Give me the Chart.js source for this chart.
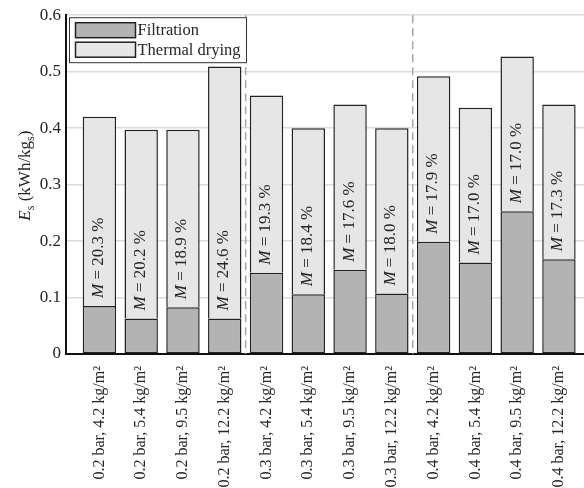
<!DOCTYPE html>
<html>
<head>
<meta charset="utf-8">
<script src="https://cdn.jsdelivr.net/npm/chart.js"></script>
<style>
  html, body { margin: 0; padding: 0; background: #fff; }
  canvas { display: block; }
</style>
</head>
<body>
<canvas id="energyChart" width="584" height="488"></canvas>
<script>
// values
const pressures = ['0.2', '0.2', '0.2', '0.2', '0.3', '0.3', '0.3', '0.3', '0.4', '0.4', '0.4', '0.4'];
const loadings = ['4.2', '5.4', '9.5', '12.2', '4.2', '5.4', '9.5', '12.2', '4.2', '5.4', '9.5', '12.2'];
const filtration = [0.085, 0.063, 0.083, 0.063, 0.144, 0.106, 0.149, 0.107, 0.199, 0.162, 0.253, 0.168];
const thermalDrying = [0.335, 0.334, 0.314, 0.446, 0.314, 0.294, 0.293, 0.293, 0.293, 0.274, 0.274, 0.274];
const moisture = ['20.3', '20.2', '18.9', '24.6', '19.3', '18.4', '17.6', '18.0', '17.9', '17.0', '17.0', '17.3'];
const yTicks = [0, 0.1, 0.2, 0.3, 0.4, 0.5, 0.6];

const labels = pressures.map((p, i) => p + ' bar, ' + loadings[i] + ' kg/m\u00B2');
const FONT = '"Liberation Serif", "Times New Roman", serif';
const TEXT = '#262626';

function toPoints(arr) {
    return arr.map((v, i) => ({ x: i + 1, y: v }));
}

// dashed separators between pressure groups, drawn behind the bars
const separators = {
    id: 'separators',
    beforeDatasetsDraw(chart) {
        const ctx = chart.ctx;
        const xs = chart.scales.x;
        const area = chart.chartArea;
        ctx.save();
        ctx.strokeStyle = '#a6a6a6';
        ctx.lineWidth = 1.5;
        ctx.setLineDash([8, 5]);
        for (let i = 0; i < pressures.length - 1; i++) {
            if (pressures[i] !== pressures[i + 1]) {
                const x = xs.getPixelForValue(i + 1.5);
                ctx.beginPath();
                ctx.moveTo(x, area.top);
                ctx.lineTo(x, area.bottom);
                ctx.stroke();
            }
        }
        ctx.restore();
    }
};

// "M = xx.x %" labels standing above the filtration part
const moistureLabels = {
    id: 'moistureLabels',
    afterDatasetsDraw(chart) {
        const ctx = chart.ctx;
        const bars = chart.getDatasetMeta(0).data;
        ctx.save();
        ctx.fillStyle = TEXT;
        ctx.textBaseline = 'middle';
        ctx.textAlign = 'left';
        bars.forEach((bar, i) => {
            ctx.save();
            ctx.translate(bar.x - 1, bar.y - 8);
            ctx.rotate(-Math.PI / 2);
            ctx.font = 'italic 17px ' + FONT;
            ctx.fillText('M', 0, 0);
            let w = ctx.measureText('M').width;
            ctx.font = '17px ' + FONT;
            ctx.fillText(' = ' + moisture[i] + ' %', w, 0);
            ctx.restore();
        });
        ctx.restore();
    }
};

// y axis title with italic E and subscripts
const yTitle = {
    id: 'yTitle',
    afterDraw(chart) {
        const ctx = chart.ctx;
        const parts = [
            { t: 'E', f: 'italic 17px ' + FONT, dy: 0 },
            { t: 's', f: '12px ' + FONT, dy: 4 },
            { t: ' (kWh/kg', f: '17px ' + FONT, dy: 0 },
            { t: 's', f: '12px ' + FONT, dy: 4 },
            { t: ')', f: '17px ' + FONT, dy: 0 }
        ];
        let total = 0;
        parts.forEach(p => { ctx.font = p.f; p.w = ctx.measureText(p.t).width; total += p.w; });
        const area = chart.chartArea;
        const cy = (area.top + area.bottom) / 2 - 9;
        ctx.save();
        ctx.translate(30, cy);
        ctx.rotate(-Math.PI / 2);
        ctx.fillStyle = TEXT;
        ctx.textBaseline = 'alphabetic';
        let x = -total / 2;
        parts.forEach(p => {
            ctx.font = p.f;
            ctx.fillText(p.t, x, p.dy);
            x += p.w;
        });
        ctx.restore();
    }
};

// boxed legend in the upper left corner of the axes
const boxLegend = {
    id: 'boxLegend',
    afterDraw(chart) {
        const ctx = chart.ctx;
        const area = chart.chartArea;
        const left = area.left + 3.5, top = area.top + 2.5;
        const w = 177, h = 45;
        ctx.save();
        ctx.fillStyle = '#fff';
        ctx.fillRect(left, top, w, h);
        ctx.strokeStyle = '#333';
        ctx.lineWidth = 1;
        ctx.strokeRect(left, top, w, h);
        ctx.font = '16.5px ' + FONT;
        ctx.textBaseline = 'middle';
        chart.data.datasets.forEach((ds, i) => {
            const y = top + 5 + i * 19.5;
            ctx.fillStyle = ds.backgroundColor;
            ctx.fillRect(left + 6, y, 60, 15);
            ctx.strokeStyle = '#222';
            ctx.lineWidth = 1.5;
            ctx.strokeRect(left + 6, y, 60, 15);
            ctx.fillStyle = TEXT;
            ctx.fillText(ds.label, left + 68, y + 8);
        });
        ctx.restore();
    }
};

const ctx = document.getElementById('energyChart').getContext('2d');
new Chart(ctx, {
    type: 'bar',
    data: {
        datasets: [{
            label: 'Filtration',
            data: toPoints(filtration),
            backgroundColor: '#b3b3b3',
            borderColor: '#222',
            borderWidth: 1.5,
            borderSkipped: false,
            barPercentage: 0.8,
            categoryPercentage: 1
        }, {
            label: 'Thermal drying',
            data: toPoints(thermalDrying),
            backgroundColor: '#e6e6e6',
            borderColor: '#222',
            borderWidth: 1.5,
            borderSkipped: 'start',
            barPercentage: 0.8,
            categoryPercentage: 1
        }]
    },
    options: {
        responsive: false,
        animation: false,
        layout: { padding: { left: 0, top: 15, right: 0, bottom: 0 } },
        plugins: {
            legend: { display: false },
            tooltip: { enabled: false }
        },
        scales: {
            x: {
                type: 'linear',
                offset: false,
                stacked: true,
                min: 0.2,
                max: 12.6,
                afterBuildTicks: function(scale) {
                    scale.ticks = labels.map((_, i) => ({ value: i + 1 }));
                },
                afterFit: function(scale) { scale.height = 134; },
                grid: { display: false },
                border: { display: true, color: '#111', width: 2 },
                ticks: {
                    autoSkip: false,
                    minRotation: 90,
                    maxRotation: 90,
                    padding: 4,
                    color: TEXT,
                    font: { family: FONT, size: 16 },
                    callback: function(value) {
                        return labels[Math.round(value) - 1];
                    }
                }
            },
            y: {
                stacked: true,
                min: 0,
                max: 0.6,
                afterBuildTicks: function(scale) {
                    scale.ticks = yTicks.map(v => ({ value: v }));
                },
                afterFit: function(scale) { scale.width = 66; },
                grid: { color: '#dcdcdc', lineWidth: 1.5, drawTicks: false },
                border: { display: true, color: '#111', width: 2 },
                ticks: {
                    padding: 5,
                    color: TEXT,
                    font: { family: FONT, size: 17 },
                    callback: function(value) {
                        return value === 0 ? '0' : value.toFixed(1);
                    }
                }
            }
        }
    },
    plugins: [separators, moistureLabels, yTitle, boxLegend]
});
</script>
</body>
</html>
